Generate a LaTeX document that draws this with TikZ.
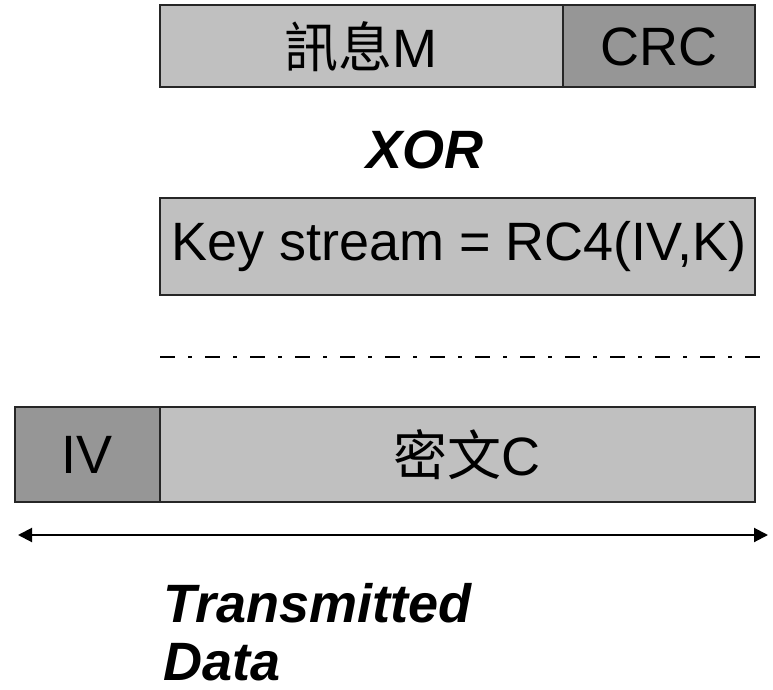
\documentclass[tikz,border=0pt]{standalone}
\usepackage{fontspec}
\setmainfont{Liberation Sans}
\newfontfamily\cjk{Noto Sans CJK TC}
\usetikzlibrary{arrows.meta}
\definecolor{lightfield}{HTML}{C0C0C0}
\definecolor{darkfield}{HTML}{969696}
\tikzset{
  field/.style={draw=black!85, line width=1.3pt},
  lbl/.style={font=\fontsize{54}{60}\selectfont, inner sep=0pt, anchor=center},
  emph/.style={font=\fontsize{54}{60}\selectfont\bfseries\itshape, inner sep=0pt}
}
\begin{document}
\begin{tikzpicture}[x=1pt,y=-1pt]
  \useasboundingbox (0,0) rectangle (773,690);
  % message and CRC
  \draw[field, fill=lightfield] (160,5) rectangle (563,87);
  \draw[field, fill=darkfield] (563,5) rectangle (755,87);
  \node[lbl] (msg) at (361,47) {{\cjk 訊息}M};
  \node[lbl] (crc) at (659,47) {CRC};
  % operator
  \node[emph] (xor) at (425,150) {XOR};
  % key stream
  \draw[field, fill=lightfield] (160,198) rectangle (755,295);
  \node[lbl] (ks) at (459,247) {Key stream = RC4(IV,K)};
  % separator
  \draw[line width=2.5pt, dash pattern=on 15pt off 13pt on 4pt off 13pt] (160,357) -- (768,357);
  % IV and ciphertext
  \draw[field, fill=darkfield] (15,407) rectangle (160,502);
  \draw[field, fill=lightfield] (160,407) rectangle (755,502);
  \node[lbl] (iv) at (87,455) {IV};
  \node[lbl] (ct) at (467,455) {{\cjk 密文}C};
  % extent of transmitted data
  \coordinate (l) at (18,535);
  \coordinate (r) at (768,535);
  \draw[line width=2pt, {Triangle[length=14pt,width=14pt]}-{Triangle[length=14pt,width=14pt]}] (l) -- (r);
  \node[emph, anchor=base west] (td) at (163,622) {Transmitted};
  \node[emph, anchor=base west] (td2) at (163,680) {Data};
\end{tikzpicture}
\end{document}
